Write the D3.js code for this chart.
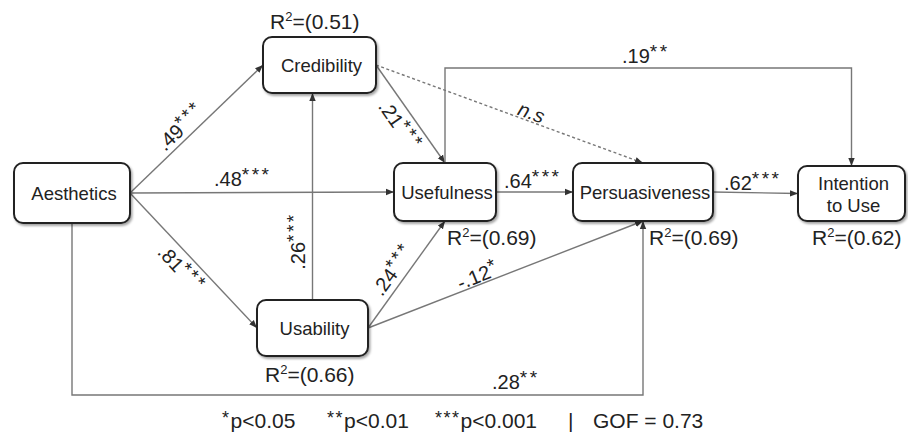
<!DOCTYPE html>
<html lang="en">
<head>
  <meta charset="UTF-8">
  <title>Structural model</title>
  <script src="https://d3js.org/d3.v7.min.js"></script>
  <style>
    body { margin: 0; background: #fff; }
    svg { font-family: 'Liberation Sans', Arial, sans-serif; }
    .node-label { font-size: 18.5px; fill: #222; }
    .rsq { font-size: 21px; fill: #222; }
    .coef { font-size: 20px; fill: #222; }
    .legend { font-size: 21px; fill: #222; }
  </style>
</head>
<body>
  <svg id="chart" width="908" height="434"></svg>

  <script>
    // constructs and their R squared (null = exogenous)
    const nodeNames = ["Aesthetics", "Credibility", "Usability", "Usefulness", "Persuasiveness", "Intention to Use"];
    const rSquared = [null, "0.51", "0.66", "0.69", "0.69", "0.62"];

    // structural paths
    const pathSource = ["Aesthetics", "Aesthetics", "Aesthetics", "Usability", "Credibility", "Credibility",
                        "Usefulness", "Usefulness", "Persuasiveness", "Usability", "Usability", "Aesthetics"];
    const pathTarget = ["Credibility", "Usefulness", "Usability", "Credibility", "Usefulness", "Persuasiveness",
                        "Intention to Use", "Persuasiveness", "Intention to Use", "Usefulness", "Persuasiveness", "Persuasiveness"];
    const pathCoef  = [".49", ".48", ".81", ".26", ".21", "n.s", ".19", ".64", ".62", ".24", "-.12", ".28"];
    const pathStars = ["***", "***", "***", "***", "***", "", "**", "***", "***", "***", "*", "**"];

    const legendItems = ["*p<0.05", "**p<0.01", "***p<0.001", "|", "GOF = 0.73"];

    // ---- layout (boxes: x0, y0, x1, y1) ----
    const boxes = {
      "Aesthetics":       [14, 163, 130, 223],
      "Credibility":      [263, 37, 376, 93],
      "Usability":        [257, 300, 368, 356],
      "Usefulness":       [394, 163, 496, 221],
      "Persuasiveness":   [573, 163, 713, 221],
      "Intention to Use": [798, 166, 905, 221]
    };
    const rsqPos = {
      "Credibility": [270, 29], "Usability": [265, 382], "Usefulness": [447, 245],
      "Persuasiveness": [649, 245], "Intention to Use": [812, 245]
    };
    // how each path is routed and where its label sits [x, y, rotation, anchor]
    const routeKind = ["straight", "straight", "straight", "vertical", "rightToTop", "rightToTop",
                       "elbowTop", "straight", "straight", "rightToBottom", "rightToBottom", "elbowBottom"];
    const labelPos = [
      [186, 132, -44, "middle"], [214, 186, 0, "start"], [176, 274, 47, "middle"],
      [305, 241, -90, "middle"], [394, 130, 55, "middle"], [529, 119, 20, "middle"],
      [622, 63, 0, "start"], [504, 188, 0, "start"], [724, 190, 0, "start"],
      [399, 274, -54, "middle"], [481, 282, -22, "middle"], [492, 389, 0, "start"]
    ];
    const elbowTopY = 68, elbowBottomY = 395;

    const svg = d3.select("#chart");
    const defs = svg.append("defs");

    defs.append("marker")
      .attr("id", "arrow")
      .attr("viewBox", "0 0 10 10")
      .attr("refX", 10).attr("refY", 5)
      .attr("markerWidth", 8).attr("markerHeight", 8)
      .attr("markerUnits", "userSpaceOnUse")
      .attr("orient", "auto")
      .append("path")
      .attr("d", "M0,1 L10,5 L0,9 Z")
      .attr("fill", "#333");

    const shadow = defs.append("filter").attr("id", "shadow")
      .attr("x", "-10%").attr("y", "-10%").attr("width", "130%").attr("height", "140%");
    shadow.append("feDropShadow")
      .attr("dx", 1.5).attr("dy", 2).attr("stdDeviation", 1.3)
      .attr("flood-color", "#000").attr("flood-opacity", 0.35);

    const mid = name => {
      const b = boxes[name];
      return { cx: (b[0] + b[2]) / 2, cy: (b[1] + b[3]) / 2, x0: b[0], y0: b[1], x1: b[2], y1: b[3] };
    };

    function routePoints(i) {
      const s = mid(pathSource[i]), t = mid(pathTarget[i]);
      switch (routeKind[i]) {
        case "straight":
          return [[s.x1, s.cy], [t.x0, t.cy]];
        case "vertical":
          return [[s.cx, s.y0], [s.cx, t.y1]];
        case "rightToTop":
          return [[s.x1, s.cy], [t.cx, t.y0]];
        case "rightToBottom":
          return [[s.x1, s.cy], [t.cx, t.y1]];
        case "elbowTop":
          return [[s.cx, s.y0], [s.cx, elbowTopY], [t.cx, elbowTopY], [t.cx, t.y0]];
        case "elbowBottom":
          return [[s.cx, s.y1], [s.cx, elbowBottomY], [t.cx, elbowBottomY], [t.cx, t.y1]];
      }
    }

    const line = d3.line();

    // paths
    svg.append("g").selectAll("path")
      .data(pathSource.map((d, i) => i))
      .join("path")
      .attr("d", i => line(routePoints(i)))
      .attr("fill", "none")
      .attr("stroke", "#777")
      .attr("stroke-width", 1.4)
      .attr("stroke-dasharray", i => pathCoef[i] === "n.s" ? "3,2.5" : null)
      .attr("marker-end", "url(#arrow)");

    // path coefficients
    const labels = svg.append("g").selectAll("text")
      .data(pathSource.map((d, i) => i))
      .join("text")
      .attr("class", "coef")
      .attr("text-anchor", i => labelPos[i][3])
      .attr("transform", i => `translate(${labelPos[i][0]},${labelPos[i][1]}) rotate(${labelPos[i][2]})`)
      .style("font-style", i => pathCoef[i] === "n.s" ? "italic" : null);
    labels.append("tspan").text(i => pathCoef[i]);
    labels.append("tspan")
      .attr("dy", -5)
      .attr("font-size", 19)
      .attr("letter-spacing", 2.5)
      .text(i => pathStars[i]);

    // construct boxes
    const node = svg.append("g").selectAll("g")
      .data(nodeNames)
      .join("g");

    node.append("rect")
      .attr("x", d => boxes[d][0])
      .attr("y", d => boxes[d][1])
      .attr("width", d => boxes[d][2] - boxes[d][0])
      .attr("height", d => boxes[d][3] - boxes[d][1])
      .attr("rx", 9)
      .attr("fill", "#fff")
      .attr("stroke", "#222")
      .attr("stroke-width", 2)
      .attr("filter", "url(#shadow)");

    node.each(function(d) {
      const m = mid(d);
      const words = d === "Intention to Use" ? ["Intention", "to Use"] : [d];
      const t = d3.select(this).append("text")
        .attr("class", "node-label")
        .attr("text-anchor", "middle");
      words.forEach((w, k) => {
        t.append("tspan")
          .attr("x", m.cx + 2)
          .attr("y", m.cy + 7 + (words.length > 1 ? (k - 0.5) * 22 : 0))
          .text(w);
      });
    });

    // R squared
    nodeNames.forEach((d, i) => {
      if (rSquared[i] === null) return;
      const t = svg.append("text")
        .attr("class", "rsq")
        .attr("x", rsqPos[d][0])
        .attr("y", rsqPos[d][1]);
      t.append("tspan").text("R");
      t.append("tspan").attr("font-size", 13).attr("dy", -8).text("2");
      t.append("tspan").attr("dy", 8).text(`=(${rSquared[i]})`);
    });

    // significance legend
    const legendX = [222, 327, 435, 568, 593];
    const legend = svg.append("g").selectAll("text")
      .data(legendItems)
      .join("text")
      .attr("class", "legend")
      .attr("x", (d, i) => legendX[i])
      .attr("y", 428);
    legend.each(function(d) {
      const m = d.match(/^(\**)(.*)$/);
      const t = d3.select(this);
      if (m[1]) {
        t.append("tspan").attr("font-size", 18).attr("dy", -4).attr("letter-spacing", 1.5).text(m[1]);
        t.append("tspan").attr("dy", 4).text(m[2]);
      } else {
        t.text(d);
      }
    });
  </script>
</body>
</html>
